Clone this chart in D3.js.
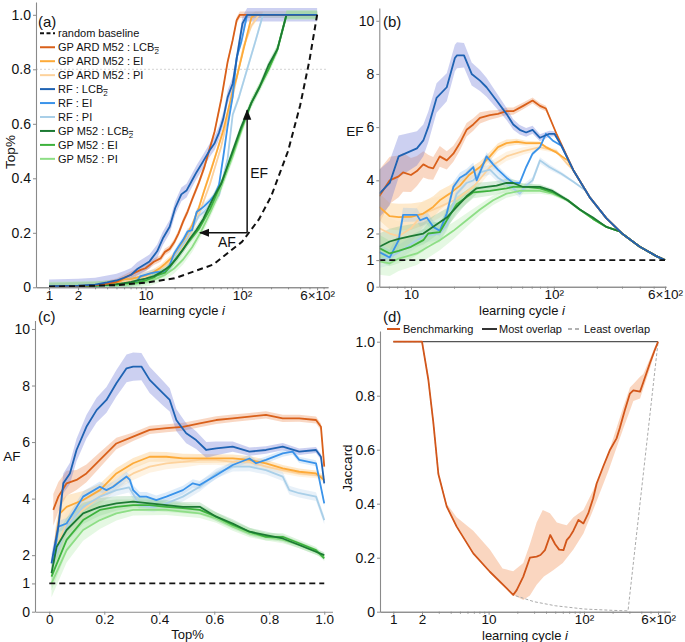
<!DOCTYPE html>
<html><head><meta charset="utf-8">
<script src="https://cdn.jsdelivr.net/npm/d3@7"></script>
<style>
body{margin:0;background:#fff;}
svg text{font-family:"Liberation Sans",Arial,sans-serif;fill:#111;}
</style></head><body>
<svg id="chart" width="685" height="642"></svg>
<script>
// ---------------- DATA ----------------
const seriesNames = ["GP ARD M52 : LCB","GP ARD M52 : EI","GP ARD M52 : PI","RF : LCB","RF : EI","RF : PI","GP M52 : LCB","GP M52 : EI","GP M52 : PI"];
const seriesIsLCB = [true,false,false,true,false,false,true,false,false];

// Panel (a): Top% vs learning cycle i
const top_ARD_LCB = [[1,0.003],[2,0.005],[3,0.008],[4,0.013],[5,0.02],[6,0.034],[7.1,0.047],[8.8,0.063],[10,0.07],[12.2,0.094],[14.3,0.106],[15.9,0.13],[17.8,0.141],[19.8,0.165],[22,0.198],[24.5,0.241],[27.3,0.278],[30.4,0.322],[35.7,0.384],[40.6,0.44],[46.6,0.513],[52,0.572],[61,0.691],[71,0.828],[80,0.907],[88,0.98],[95,1.0]];
const top_ARD_EI = [[1,0.003],[3,0.006],[5,0.015],[6,0.03],[7.1,0.031],[8.2,0.036],[10,0.044],[12.2,0.056],[14.3,0.072],[15.9,0.086],[18.7,0.109],[22,0.139],[25.5,0.179],[30.4,0.228],[35.7,0.292],[40.6,0.355],[46.6,0.419],[55,0.5],[64,0.576],[80,0.72],[88,0.77],[104,0.875],[125,0.99],[137,1.0]];
const top_ARD_PI = [[1,0.003],[3,0.006],[5,0.012],[6,0.022],[7.1,0.024],[8.2,0.026],[10,0.037],[12.2,0.056],[15.9,0.08],[20.9,0.115],[27.3,0.171],[35.7,0.268],[46.6,0.38],[61,0.518],[80,0.7],[104,0.884],[125,0.96],[150,1.0]];
const top_RF_LCB = [[1,0.004],[2,0.006],[3,0.01],[4,0.018],[5,0.025],[6,0.035],[7.1,0.046],[8.2,0.067],[11,0.095],[13.2,0.132],[15.1,0.179],[17.8,0.222],[20.3,0.291],[23.5,0.341],[26.6,0.355],[30.4,0.393],[33.8,0.4225],[39.7,0.463],[46.6,0.505],[52,0.529],[57.7,0.567],[64,0.619],[71,0.698],[80,0.747],[93,0.891],[101,0.968],[113,1.0]];
const top_RF_EI = [[1,0.003],[3,0.006],[5,0.01],[6,0.013],[7.1,0.014],[8.2,0.024],[8.8,0.04],[11,0.05],[12.9,0.056],[15.9,0.057],[17.8,0.082],[19.8,0.124],[22,0.15],[24.5,0.174],[27.3,0.205],[30.4,0.21],[33.8,0.276],[37.6,0.288],[40.6,0.298],[46.6,0.318],[52,0.338],[57.7,0.375],[64,0.48],[71,0.592],[80,0.7],[88,0.843],[98,0.898],[113,1.0]];
const top_RF_PI = [[1,0.003],[3,0.005],[5,0.008],[6,0.01],[8.2,0.018],[10,0.027],[12.2,0.039],[15.9,0.053],[17.8,0.068],[20.9,0.122],[24.5,0.159],[27.3,0.182],[30.4,0.218],[35.7,0.262],[40.6,0.277],[46.6,0.303],[57.7,0.337],[64,0.405],[71,0.473],[80,0.633],[93,0.698],[113,0.8],[137,0.9],[165,1.0]];
const top_GP_LCB = [[1,0.003],[3,0.006],[5,0.012],[6,0.015],[7.1,0.02],[8.2,0.025],[10,0.032],[12.2,0.041],[14.3,0.054],[17.8,0.077],[20.9,0.105],[24.5,0.139],[28.8,0.178],[33.8,0.211],[39.7,0.251],[46.6,0.303],[52,0.338],[61,0.381],[80,0.5],[98,0.588],[125,0.677],[152,0.735],[188,0.815],[233,0.874],[289,1.0]];
const top_GP_EI = [[1,0.003],[3,0.006],[5,0.01],[6,0.0145],[7.1,0.015],[8.2,0.018],[10,0.025],[12.2,0.036],[13.2,0.044],[15.9,0.054],[17.8,0.074],[20.9,0.108],[27.3,0.162],[35.7,0.214],[46.6,0.287],[52,0.325],[64,0.4],[80,0.493],[98,0.58],[125,0.677],[152,0.735],[188,0.8],[233,0.874],[289,1.0]];
const top_GP_PI = [[1,0.002],[3,0.005],[5,0.008],[6,0.0095],[7.1,0.0104],[8.2,0.0145],[11,0.023],[13.2,0.033],[15.9,0.046],[19.8,0.069],[24.5,0.102],[30.4,0.147],[37.6,0.204],[46.6,0.272],[57.7,0.346],[80,0.48],[98,0.572],[125,0.677],[152,0.735],[188,0.8],[233,0.874],[289,1.0]];
const topTail = [[600,1.0]];
const randomTop = [[1,0.002],[5,0.008],[10,0.017],[20,0.033],[50,0.083],[100,0.167],[150,0.25],[200,0.333],[300,0.5],[400,0.667],[500,0.833],[600,1.0]];
const topBandHW = [0.012,0.012,0.01,0.025,0.012,0.012,0.015,0.015,0.018];
const arrowCycle = [113, 36.7];
const arrowTop = [0.2, 0.65];
const refLineTop = 0.8;

// Panel (b): EF vs learning cycle i
const ef_ARD_LCB = [[6,3.4],[7.1,4.0],[8.2,4.15],[8.8,4.3],[10,4.2],[11,4.35],[12.2,4.6],[13.2,4.5],[14.3,4.45],[15.9,4.9],[17.8,4.75],[19.8,5.0],[22,5.4],[24.5,5.9],[27.3,6.1],[30.4,6.35],[35.7,6.45],[40.6,6.5],[46.6,6.6],[52,6.6],[61,6.8],[71,7.0],[80,6.8],[88,6.7],[104,5.77]];
const ef_ARD_EI = [[6,3.0],[7.1,2.65],[8.2,2.62],[10,2.63],[12.2,2.75],[14.3,3.0],[15.9,3.25],[18.7,3.5],[22,3.8],[25.5,4.2],[30.4,4.5],[35.7,4.9],[40.6,5.25],[46.6,5.4],[55,5.45],[64,5.4],[80,5.4],[88,5.25],[104,5.05],[125,4.75]];
const ef_ARD_PI = [[6,2.2],[7.1,2.0],[8.2,1.9],[10,2.2],[12.2,2.75],[15.9,3.0],[20.9,3.3],[27.3,3.75],[35.7,4.5],[46.6,4.9],[61,5.1],[80,5.25],[104,5.1],[125,4.6]];
const ef_RF_LCB = [[6,3.5],[7.1,3.9],[8.2,4.9],[11,5.2],[12.2,5.5],[13.2,6.0],[15.1,7.1],[17.8,7.5],[20.3,8.6],[21,8.7],[23.5,8.7],[26.6,8.0],[30.4,7.75],[33.8,7.5],[39.7,7.0],[46.6,6.5],[52,6.1],[57.7,5.9],[64,5.8],[71,5.9],[80,5.6],[93,5.75],[101,5.75],[113,5.3]];
const ef_RF_EI = [[6,1.3],[7.1,1.1],[8.2,1.75],[8.8,2.7],[11,2.7],[11.6,2.5],[12.9,2.6],[14.3,2.25],[15.9,2.1],[17.8,2.75],[19.8,3.75],[22,4.1],[24.5,4.25],[27.3,4.5],[28.8,4.0],[33.8,4.9],[37.6,4.6],[40.6,4.4],[46.6,4.1],[52,3.9],[57.7,3.9],[64,4.5],[71,5.0],[80,5.25],[88,5.75],[98,5.5],[113,5.3]];
const ef_RF_PI = [[6,1.0],[7.1,1.1],[8.2,1.3],[10,1.6],[12.2,1.9],[15.9,2.0],[17.8,2.3],[20.9,3.5],[24.5,3.9],[27.3,4.0],[30.4,4.3],[35.7,4.4],[40.6,4.1],[46.6,3.9],[57.7,3.5],[64,3.8],[71,4.0],[80,4.75],[93,4.5],[113,4.25],[137,3.95],[165,3.64]];
const ef_GP_LCB = [[6,1.5],[7.1,1.7],[8.2,1.8],[10,1.9],[12.2,2.0],[14.3,2.25],[17.8,2.6],[20.9,3.0],[24.5,3.4],[28.8,3.7],[33.8,3.75],[39.7,3.8],[46.6,3.9],[52,3.9],[61,3.75],[80,3.75],[98,3.6],[125,3.25],[152,2.9],[188,2.6],[233,2.25],[289,2.08]];
const ef_GP_EI = [[6,1.45],[7.1,1.25],[8.2,1.35],[10,1.5],[12.2,1.75],[13.2,2.0],[15.9,2.05],[17.8,2.5],[20.9,3.1],[27.3,3.55],[35.7,3.6],[46.6,3.7],[52,3.75],[64,3.75],[80,3.7],[98,3.55],[125,3.25],[152,2.9],[188,2.55],[233,2.25],[289,2.08]];
const ef_GP_PI = [[6,0.95],[7.1,0.88],[8.2,1.06],[11,1.25],[13.2,1.5],[15.9,1.75],[19.8,2.1],[24.5,2.5],[30.4,2.9],[37.6,3.25],[46.6,3.5],[57.7,3.6],[80,3.6],[98,3.5],[125,3.25],[152,2.9],[188,2.55],[233,2.25],[289,2.08]];
const efTail = [[137,4.38],[178,3.37],[233,2.58],[305,1.97],[400,1.5],[522,1.15],[600,1.0]];
const efRandom = [[6,1],[600,1]];
const efBand_ARD_LCB = [[6,1.0],[8,0.8],[12,0.5],[20,0.3],[40,0.15],[90,0.1],[110,0]];
const efBand_ARD_EI = [[6,0.5],[10,0.5],[20,0.3],[40,0.15],[130,0]];
const efBand_ARD_PI = [[6,0.6],[12,0.5],[25,0.25],[130,0.05],[140,0]];
const efBand_RF_LCB = [[6,0.9],[8,0.8],[12,0.6],[20,0.5],[30,0.4],[50,0.2],[100,0.1],[115,0]];
const efBand_RF_EI = [[6,0.3],[20,0.2],[60,0.1],[115,0]];
const efBand_RF_PI = [[6,0.3],[30,0.2],[100,0.1],[170,0]];
const efBand_GP_LCB = [[6,0.5],[15,0.4],[30,0.2],[100,0.08],[300,0]];
const efBand_GP_EI = [[6,0.5],[15,0.4],[30,0.2],[100,0.08],[300,0]];
const efBand_GP_PI = [[6,0.5],[15,0.4],[30,0.2],[100,0.08],[300,0]];

// Panel (c): AF vs Top%
const af_ARD_LCB = [[0.0145,3.6],[0.033,4.07],[0.063,4.54],[0.099,4.66],[0.135,4.89],[0.184,5.37],[0.244,5.95],[0.305,6.19],[0.365,6.43],[0.426,6.49],[0.486,6.54],[0.547,6.66],[0.607,6.78],[0.667,6.84],[0.728,6.9],[0.788,6.96],[0.849,6.84],[0.909,6.84],[0.97,6.78],[0.988,6.54],[1.0,5.13]];
const af_ARD_EI = [[0.021,2.42],[0.039,3.48],[0.063,3.71],[0.123,3.95],[0.184,4.3],[0.244,4.89],[0.305,5.25],[0.365,5.48],[0.426,5.48],[0.486,5.42],[0.547,5.42],[0.607,5.42],[0.667,5.42],[0.728,5.37],[0.788,5.25],[0.849,5.07],[0.909,4.95],[0.97,4.89],[1.0,4.66]];
const af_ARD_PI = [[0.021,2.18],[0.063,3.12],[0.123,3.6],[0.184,4.07],[0.244,4.54],[0.305,4.89],[0.365,5.13],[0.426,5.25],[0.486,5.3],[0.547,5.37],[0.607,5.37],[0.667,5.3],[0.728,5.3],[0.788,5.13],[0.849,5.01],[0.909,4.89],[0.97,4.83],[1.0,4.78]];
const af_RF_LCB = [[0.008,1.71],[0.0145,2.06],[0.033,3.01],[0.051,4.54],[0.075,4.89],[0.099,5.72],[0.135,6.54],[0.172,7.13],[0.208,7.49],[0.244,8.08],[0.281,8.61],[0.305,8.67],[0.335,8.67],[0.365,8.2],[0.414,7.72],[0.438,7.49],[0.462,6.78],[0.48,6.54],[0.498,6.31],[0.534,6.07],[0.571,5.72],[0.607,5.78],[0.667,5.84],[0.728,5.66],[0.788,5.72],[0.849,5.84],[0.909,5.66],[0.97,5.72],[0.988,5.48],[1.0,4.54]];
const af_RF_EI = [[0.0145,1.71],[0.033,3.01],[0.063,3.12],[0.123,4.07],[0.184,4.42],[0.208,4.3],[0.232,4.42],[0.281,4.78],[0.293,4.66],[0.305,4.3],[0.329,4.07],[0.353,4.07],[0.389,3.95],[0.426,4.07],[0.486,4.3],[0.522,4.54],[0.547,4.48],[0.607,4.83],[0.667,5.19],[0.728,5.42],[0.752,5.25],[0.788,5.37],[0.849,5.6],[0.885,5.66],[0.909,5.37],[0.97,5.25],[1.0,3.83]];
const af_RF_PI = [[0.021,1.95],[0.063,3.01],[0.123,3.71],[0.184,4.07],[0.244,4.3],[0.29,4.4],[0.33,3.75],[0.38,3.7],[0.426,3.83],[0.486,4.07],[0.547,4.42],[0.607,4.89],[0.667,5.13],[0.728,5.13],[0.788,5.01],[0.849,4.78],[0.873,4.3],[0.909,4.19],[0.97,4.07],[1.0,3.24]];
const af_GP_LCB = [[0.008,1.36],[0.027,2.3],[0.063,2.89],[0.123,3.48],[0.184,3.71],[0.244,3.83],[0.305,3.89],[0.365,3.83],[0.426,3.77],[0.486,3.71],[0.547,3.71],[0.607,3.36],[0.667,3.12],[0.728,2.83],[0.788,2.71],[0.849,2.59],[0.909,2.36],[0.97,2.12],[1.0,2.0]];
const af_GP_EI = [[0.008,1.24],[0.063,2.54],[0.123,3.24],[0.184,3.6],[0.244,3.71],[0.305,3.77],[0.365,3.77],[0.426,3.71],[0.486,3.66],[0.547,3.6],[0.607,3.36],[0.667,3.07],[0.728,2.83],[0.788,2.65],[0.849,2.65],[0.909,2.42],[0.97,2.18],[1.0,1.89]];
const af_GP_PI = [[0.008,1.0],[0.063,2.18],[0.123,2.89],[0.184,3.24],[0.244,3.48],[0.305,3.6],[0.365,3.6],[0.426,3.6],[0.486,3.54],[0.547,3.48],[0.607,3.3],[0.667,3.01],[0.728,2.77],[0.788,2.65],[0.849,2.54],[0.909,2.36],[0.97,2.12],[1.0,1.95]];
const afRandom = [[0,1],[1,1]];
const afBand_ARD_LCB = [[0,0.6],[0.1,0.35],[0.3,0.15],[1,0.12]];
const afBand_ARD_EI = [[0,0.5],[0.2,0.2],[1,0.1]];
const afBand_ARD_PI = [[0,0.5],[0.2,0.25],[1,0.1]];
const afBand_RF_LCB = [[0,0.3],[0.1,0.4],[0.3,0.5],[0.4,0.45],[0.55,0.3],[0.7,0.15],[1,0.1]];
const afBand_RF_EI = [[0,0.2],[1,0.1]];
const afBand_RF_PI = [[0,0.2],[1,0.15]];
const afBand_GP_LCB = [[0,0.5],[0.1,0.4],[0.3,0.2],[1,0.1]];
const afBand_GP_EI = [[0,0.5],[0.1,0.4],[0.3,0.2],[1,0.1]];
const afBand_GP_PI = [[0,0.5],[0.1,0.4],[0.3,0.2],[1,0.1]];

// Panel (d): Jaccard vs learning cycle i
const jacBench = [[1,1],[2,1],[2.33,0.86],[2.63,0.7],[2.97,0.51],[3.63,0.39],[4.62,0.315],[6.9,0.216],[10.3,0.148],[15.5,0.086],[18.1,0.062],[19.7,0.08],[23.1,0.13],[27.1,0.2],[31.9,0.204],[35,0.21],[39,0.228],[44.3,0.284],[49.9,0.25],[55,0.23],[61,0.228],[66,0.265],[71,0.278],[77.5,0.3],[87.6,0.34],[98.8,0.327],[111,0.364],[125,0.42],[136,0.475],[159,0.537],[188,0.6],[220,0.642],[238,0.68],[269,0.747],[304,0.808],[330,0.82],[388,0.815],[420,0.85],[492,0.92],[555,0.97],[600,1.0]];
const jacUpper = [[2.97,0.51],[3.63,0.4],[4.62,0.35],[6.9,0.3],[10.3,0.23],[14,0.16],[18.1,0.15],[23.1,0.18],[27.1,0.25],[31.9,0.33],[37,0.377],[44,0.365],[52,0.33],[66,0.32],[77.5,0.35],[98.8,0.377],[125,0.45],[180,0.586],[260,0.76],[304,0.83],[388,0.87],[420,0.88],[555,0.98],[600,1.0]];
const jacLower = [[2.97,0.51],[3.63,0.39],[4.62,0.315],[6.9,0.216],[10.3,0.148],[15.5,0.086],[18.1,0.062],[23.1,0.043],[27.1,0.06],[31.9,0.1],[38,0.13],[48,0.154],[60,0.18],[77.5,0.23],[98.8,0.29],[125,0.377],[180,0.52],[260,0.68],[330,0.78],[388,0.79],[492,0.9],[600,1.0]];
const jacMost = [[1,1],[600,1]];
const jacLeast = [[1,1],[2,1],[2.33,0.86],[2.63,0.7],[2.97,0.51],[3.63,0.39],[4.62,0.315],[6.9,0.216],[10.3,0.148],[15.5,0.086],[18.1,0.062],[30,0.037],[50,0.022],[100,0.01],[200,0.005],[290,0.003],[600,1.0]];

// tick labels
const logTicksA = [1,2,10,100,600];
const logTickLabelsA = ["1","2","10","10²","6×10²"];
const logTicksB = [10,100,600];
const logTickLabelsB = ["10","10²","6×10²"];
const minorLogTicks = [3,4,5,6,7,8,9,20,30,40,50,60,70,80,90,200,300,400,500,700];
const fracTicks = [0,0.2,0.4,0.6,0.8,1.0];
const fracTickLabels = ["0","0.2","0.4","0.6","0.8","1.0"];
const efTicks = [0,1,2,4,6,8,10];

// styles
const seriesColors = ["#d9601a","#fdaa38","#fdd29c","#1f63b3","#3a93ea","#a9cfe8","#1c7a33","#3db23c","#8ede86"];
const bandColors = ["#ef9a68","#fdc06a","#fde1b8","#6e78d8","#8dbff0","#bcd8ee","#7fc48a","#8fd88f","#b5ecae"];
const bandOpac = [0.4,0.35,0.4,0.35,0.3,0.35,0.3,0.3,0.35];
const drawOrder = [2,1,5,4,8,7,6,0,3];

const topSeries = [top_ARD_LCB,top_ARD_EI,top_ARD_PI,top_RF_LCB,top_RF_EI,top_RF_PI,top_GP_LCB,top_GP_EI,top_GP_PI];
const efSeries = [ef_ARD_LCB,ef_ARD_EI,ef_ARD_PI,ef_RF_LCB,ef_RF_EI,ef_RF_PI,ef_GP_LCB,ef_GP_EI,ef_GP_PI];
const efBands = [efBand_ARD_LCB,efBand_ARD_EI,efBand_ARD_PI,efBand_RF_LCB,efBand_RF_EI,efBand_RF_PI,efBand_GP_LCB,efBand_GP_EI,efBand_GP_PI];
const afSeries = [af_ARD_LCB,af_ARD_EI,af_ARD_PI,af_RF_LCB,af_RF_EI,af_RF_PI,af_GP_LCB,af_GP_EI,af_GP_PI];
const afBands = [afBand_ARD_LCB,afBand_ARD_EI,afBand_ARD_PI,afBand_RF_LCB,afBand_RF_EI,afBand_RF_PI,afBand_GP_LCB,afBand_GP_EI,afBand_GP_PI];

// ---------------- DRAW ----------------
const svg = d3.select("#chart");
const AXC = "#8a8a8a";
let clipId = 0;

function styleAxis(g, fs){
  g.select(".domain").attr("stroke", AXC).attr("stroke-width", 1.1);
  g.selectAll(".tick line").attr("stroke", AXC);
  g.selectAll(".tick text").style("font-size", (fs||14)+"px").attr("fill","#111");
}
function addClip(x, y){
  const id = "clip"+(clipId++);
  const r = [x.range(), y.range()];
  svg.append("clipPath").attr("id", id).append("rect")
    .attr("x", Math.min(...r[0])).attr("y", Math.min(...r[1])-2)
    .attr("width", Math.abs(r[0][1]-r[0][0])+2).attr("height", Math.abs(r[1][1]-r[1][0])+2);
  return svg.append("g").attr("clip-path", "url(#"+id+")");
}
function xAxisLog(x, yPos, ticks, labels){
  const gm = svg.append("g").attr("transform", `translate(0,${yPos})`)
    .call(d3.axisBottom(x).tickValues(minorLogTicks.filter(v => v>x.domain()[0] && v<x.domain()[1])).tickFormat("").tickSize(2).tickSizeOuter(0));
  styleAxis(gm);
  const g = svg.append("g").attr("transform", `translate(0,${yPos})`)
    .call(d3.axisBottom(x).tickValues(ticks).tickFormat((d,i)=>labels[i]).tickSize(3).tickPadding(0).tickSizeOuter(0));
  styleAxis(g, 13.5);
  return g;
}
function yAxis(x0, y, ticks, labels){
  const g = svg.append("g").attr("transform", `translate(${x0},0)`)
    .call(d3.axisLeft(y).tickValues(ticks).tickFormat((d,i)=>labels ? labels[i] : String(d)).tickSize(3).tickPadding(2).tickSizeOuter(0));
  styleAxis(g);
  return g;
}
function hwScale(spec, isLog){
  return (isLog ? d3.scaleLog() : d3.scaleLinear()).domain(spec.map(d=>d[0])).range(spec.map(d=>d[1])).clamp(true);
}
function drawBands(g, x, y, dataList, hwFns){
  dataList.forEach((data, k) => {
    const hw = hwFns[k];
    const area = d3.area().x(d=>x(d[0]))
      .y0(d=>y(Math.max(0, d[1]-hw(d[0])))).y1(d=>y(d[1]+hw(d[0])));
    g.append("path").datum(data).attr("d", area).attr("fill", bandColors[k]).attr("opacity", bandOpac[k]).attr("stroke","none");
  });
}
function drawLines(g, x, y, dataList){
  const line = d3.line().x(d=>x(d[0])).y(d=>y(d[1]));
  drawOrder.forEach(k => {
    g.append("path").datum(dataList[k]).attr("d", line).attr("fill","none")
      .attr("stroke", seriesColors[k]).attr("stroke-width", 1.8).attr("stroke-linejoin","round");
  });
}
function xTitle(cx, yb, italicI, txt){
  const t = svg.append("text").attr("x", cx).attr("y", yb).attr("text-anchor","middle").style("font-size","13px");
  t.append("tspan").text(txt);
  if (italicI) t.append("tspan").attr("font-style","italic").text(" i");
}
function panelLabel(x0, yb, txt){
  svg.append("text").attr("x", x0).attr("y", yb).style("font-size","15px").text(txt);
}

// ---------- Panel (a) ----------
{
  const x = d3.scaleLog().domain([0.733, 778]).range([36, 328]);
  const y = d3.scaleLinear().domain([0, 1.047]).range([287.3, 2]);
  const g = addClip(x, y);
  g.append("line").attr("x1", x.range()[0]).attr("x2", x.range()[1]).attr("y1", y(refLineTop)).attr("y2", y(refLineTop))
    .attr("stroke","#cfcfcf").attr("stroke-width",0.9).attr("stroke-dasharray","2,2");
  const data = topSeries.map(s => s.concat(topTail));
  drawBands(g, x, y, data, topBandHW.map(h => (() => h)));
  drawLines(g, x, y, data);
  const line = d3.line().x(d=>x(d[0])).y(d=>y(d[1]));
  g.append("path").datum(randomTop).attr("d", line).attr("fill","none").attr("stroke","#111").attr("stroke-width",2).attr("stroke-dasharray","6,4");
  const defs = svg.append("defs");
  defs.append("marker").attr("id","arrowhead").attr("viewBox","0 0 10 10").attr("refX",9).attr("refY",5)
    .attr("markerWidth",7).attr("markerHeight",7).attr("orient","auto-start-reverse")
    .append("path").attr("d","M0,1 L10,5 L0,9 z").attr("fill","#111");
  svg.append("line").attr("x1", x(arrowCycle[0])).attr("x2", x(arrowCycle[0])).attr("y1", y(arrowTop[0])).attr("y2", y(arrowTop[1]))
    .attr("stroke","#111").attr("stroke-width",1.5).attr("marker-end","url(#arrowhead)");
  svg.append("line").attr("x1", x(arrowCycle[0])).attr("x2", x(arrowCycle[1])).attr("y1", y(arrowTop[0])).attr("y2", y(arrowTop[0]))
    .attr("stroke","#111").attr("stroke-width",1.5).attr("marker-end","url(#arrowhead)");
  svg.append("text").attr("x", x(arrowCycle[0])+3).attr("y", 178).style("font-size","14px").text("EF");
  svg.append("text").attr("x", 218).attr("y", 247).style("font-size","14px").text("AF");

  xAxisLog(x, 287.3, logTicksA, logTickLabelsA);
  yAxis(36, y, fracTicks, fracTickLabels);
  xTitle(182, 315, true, "learning cycle");
  svg.append("text").attr("transform","translate(15,152) rotate(-90)").attr("text-anchor","middle").style("font-size","13.5px").text("Top%");
  panelLabel(38, 27, "(a)");

  const lg = svg.append("g");
  const rowY = k => 33.3 + k*13.95;
  lg.append("line").attr("x1",40).attr("x2",55).attr("y1",rowY(0)).attr("y2",rowY(0)).attr("stroke","#111").attr("stroke-width",2).attr("stroke-dasharray","4,2.5");
  lg.append("text").attr("x",58).attr("y",rowY(0)+4).style("font-size","11px").text("random baseline");
  seriesNames.forEach((nm, k) => {
    const yy = rowY(k+1);
    lg.append("line").attr("x1",40).attr("x2",55).attr("y1",yy).attr("y2",yy).attr("stroke",seriesColors[k]).attr("stroke-width",2);
    const t = lg.append("text").attr("x",58).attr("y",yy+4).style("font-size","11px").text(nm);
    if (seriesIsLCB[k]) {
      t.append("tspan").attr("dy",3).style("font-size","8px").style("text-decoration","overline").text("2");
    }
  });
}

// ---------- Panel (b) ----------
{
  const x = d3.scaleLog().domain([6, 610]).range([379.3, 666]);
  const y = d3.scaleLinear().domain([0, 10.48]).range([286.7, 8]);
  const g = addClip(x, y);
  const data = efSeries.map(s => s.concat(efTail.filter(p => p[0] > s[s.length-1][0])));
  drawBands(g, x, y, data, efBands.map(b => hwScale(b, true)));
  drawLines(g, x, y, data);
  const line = d3.line().x(d=>x(d[0])).y(d=>y(d[1]));
  g.append("path").datum(efRandom).attr("d", line).attr("fill","none").attr("stroke","#111").attr("stroke-width",1.8).attr("stroke-dasharray","6,4");
  xAxisLog(x, 286.7, logTicksB, logTickLabelsB);
  yAxis(379.3, y, efTicks);
  xTitle(522, 315, true, "learning cycle");
  svg.append("text").attr("x",355).attr("y",136).attr("text-anchor","middle").style("font-size","13.5px").text("EF");
  panelLabel(383, 27, "(b)");
}

// ---------- Panel (c) ----------
{
  const x = d3.scaleLinear().domain([-0.052, 1.03]).range([35, 332.5]);
  const y = d3.scaleLinear().domain([0, 10.3]).range([611.7, 320.5]);
  const g = addClip(x, y);
  drawBands(g, x, y, afSeries, afBands.map(b => hwScale(b, false)));
  drawLines(g, x, y, afSeries);
  const line = d3.line().x(d=>x(d[0])).y(d=>y(d[1]));
  g.append("path").datum(afRandom).attr("d", line).attr("fill","none").attr("stroke","#111").attr("stroke-width",1.8).attr("stroke-dasharray","6,4");
  const gx = svg.append("g").attr("transform","translate(0,611.7)")
    .call(d3.axisBottom(x).tickValues(fracTicks).tickFormat((d,i)=>fracTickLabels[i]).tickSize(3).tickPadding(0).tickSizeOuter(0));
  styleAxis(gx, 13.5);
  yAxis(35, y, efTicks);
  xTitle(187.5, 639, false, "Top%");
  svg.append("text").attr("x",12).attr("y",461).attr("text-anchor","middle").style("font-size","13.5px").text("AF");
  panelLabel(38, 322, "(c)");
}

// ---------- Panel (d) ----------
{
  const x = d3.scaleLog().domain([0.725, 800]).range([380, 670]);
  const y = d3.scaleLinear().domain([0, 1.04]).range([611.7, 330.9]);
  const g = addClip(x, y);
  const line = d3.line().x(d=>x(d[0])).y(d=>y(d[1]));
  const bandPts = jacUpper.map(d => d[0]).concat(jacLower.map(d=>d[0]));
  const lowS = d3.scaleLog().domain(jacLower.map(d=>d[0])).range(jacLower.map(d=>d[1])).clamp(true);
  const upS = d3.scaleLog().domain(jacUpper.map(d=>d[0])).range(jacUpper.map(d=>d[1])).clamp(true);
  const xsBand = Array.from(new Set(bandPts)).sort((a,b)=>a-b);
  const area = d3.area().x(d=>x(d)).y0(d=>y(lowS(d))).y1(d=>y(upS(d)));
  g.append("path").datum(xsBand).attr("d", area).attr("fill","#f6b58c").attr("opacity",0.55);
  g.append("path").datum(jacMost).attr("d", line).attr("fill","none").attr("stroke","#555").attr("stroke-width",1.2);
  g.append("path").datum(jacLeast).attr("d", line).attr("fill","none").attr("stroke","#aaa").attr("stroke-width",1).attr("stroke-dasharray","3,2");
  g.append("path").datum(jacBench).attr("d", line).attr("fill","none").attr("stroke","#d2561a").attr("stroke-width",1.8).attr("stroke-linejoin","round");
  xAxisLog(x, 611.7, logTicksA, logTickLabelsA);
  yAxis(380, y, fracTicks, fracTickLabels);
  xTitle(525, 639.5, true, "learning cycle");
  svg.append("text").attr("transform","translate(352,468) rotate(-90)").attr("text-anchor","middle").style("font-size","13.5px").text("Jaccard");
  panelLabel(383, 322, "(d)");
  const ly = 329;
  svg.append("line").attr("x1",387).attr("x2",400).attr("y1",ly).attr("y2",ly).attr("stroke","#d2561a").attr("stroke-width",2);
  svg.append("text").attr("x",403).attr("y",ly+4).style("font-size","11px").text("Benchmarking");
  svg.append("line").attr("x1",482).attr("x2",497).attr("y1",ly).attr("y2",ly).attr("stroke","#333").attr("stroke-width",2);
  svg.append("text").attr("x",499).attr("y",ly+4).style("font-size","11px").text("Most overlap");
  svg.append("line").attr("x1",568).attr("x2",582).attr("y1",ly).attr("y2",ly).attr("stroke","#999").attr("stroke-width",1.5).attr("stroke-dasharray","4,3");
  svg.append("text").attr("x",584).attr("y",ly+4).style("font-size","11px").text("Least overlap");
}
</script>
</body></html>
